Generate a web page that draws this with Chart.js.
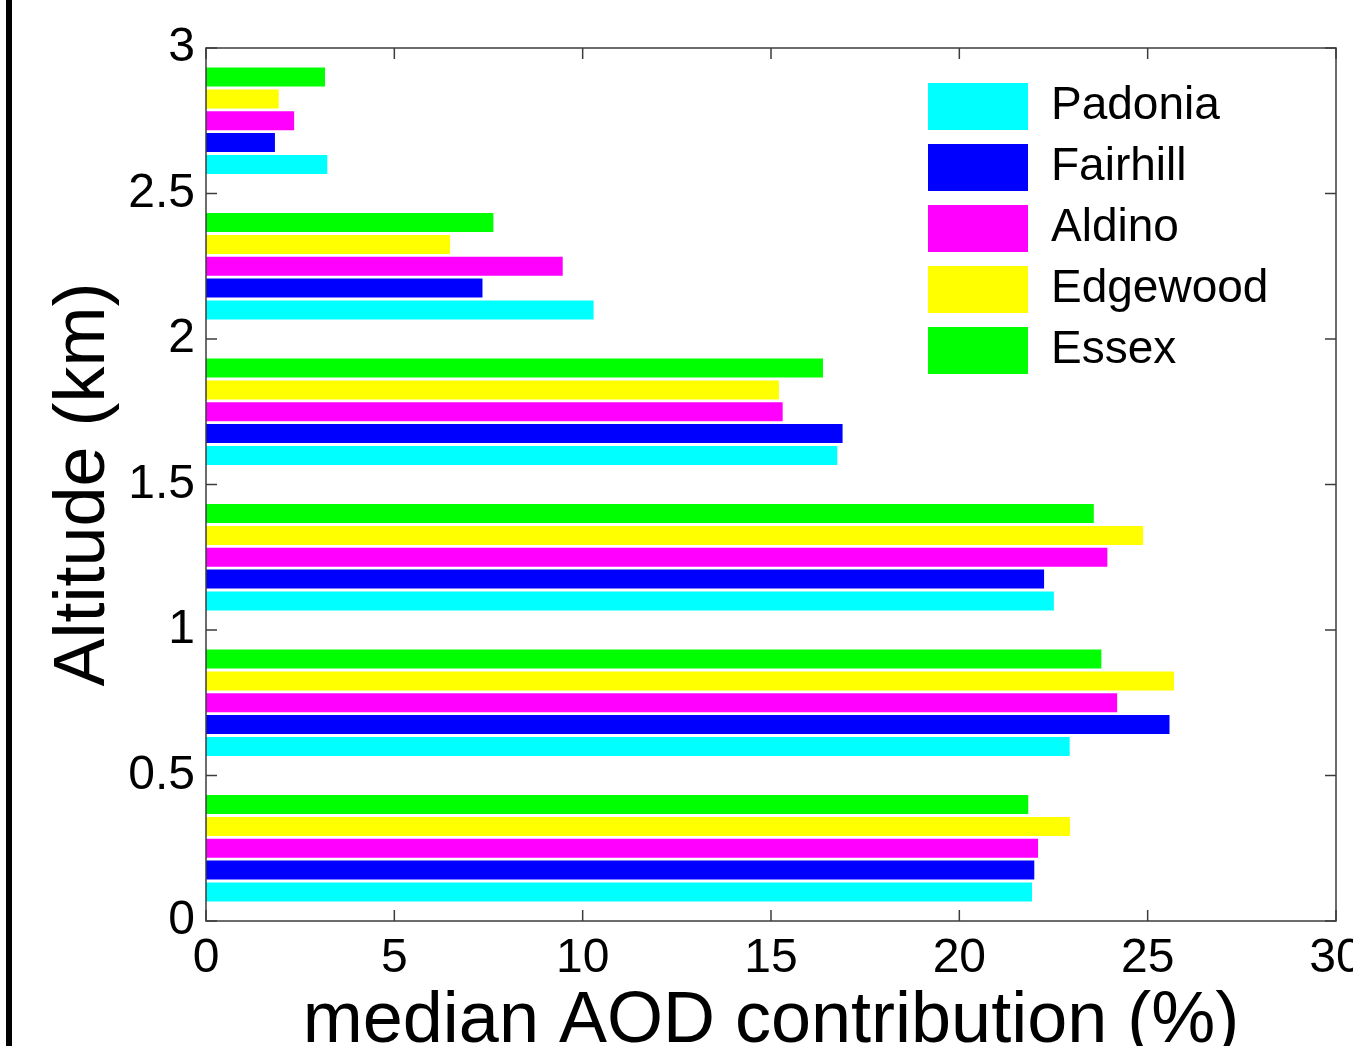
<!DOCTYPE html>
<html>
<head>
<meta charset="utf-8">
<title>median AOD contribution</title>
<script src="https://cdn.jsdelivr.net/npm/chart.js@4.4.1/dist/chart.umd.min.js"></script>
<style>
  html, body { margin: 0; padding: 0; background: #fff; }
  #wrap { position: relative; width: 1353px; height: 1046px; overflow: hidden; }
  #grafico { position: absolute; left: 0; top: 0; }
  #borda { position: absolute; left: 6px; top: 0; width: 6px; height: 100%; background: #000; }
</style>
</head>
<body>
<div id="wrap">
  <canvas id="grafico" width="1353" height="1046"></canvas>
  <div id="borda"></div>
</div>
<script>
// altitude bins (km, centre of each 0.5 km layer)
const altitudes = [0.25, 0.75, 1.25, 1.75, 2.25, 2.75];

// median AOD contribution (%) per site, bottom layer first
const padonia  = [21.93, 22.93, 22.51, 16.76, 10.29, 3.22];
const fairhill = [21.99, 25.58, 22.25, 16.90, 7.34, 1.83];
const aldino   = [22.09, 24.19, 23.93, 15.31, 9.47, 2.34];
const edgewood = [22.94, 25.70, 24.88, 15.21, 6.48, 1.93];
const essex    = [21.83, 23.77, 23.57, 16.38, 7.63, 3.16];

const xTicks = [0, 5, 10, 15, 20, 25, 30];
const yTicks = [0, 0.5, 1, 1.5, 2, 2.5, 3];

const fonte = 'Liberation Sans, Arial, sans-serif';
Chart.defaults.color = '#000';
Chart.defaults.font.family = fonte;

// Essex first so it sits on top inside each group (legend is reversed)
const series = [
  {label: 'Essex',    values: essex,    cor: '#00ff00'},
  {label: 'Edgewood', values: edgewood, cor: '#ffff00'},
  {label: 'Aldino',   values: aldino,   cor: '#ff00ff'},
  {label: 'Fairhill', values: fairhill, cor: '#0000ff'},
  {label: 'Padonia',  values: padonia,  cor: '#00ffff'},
];

const datasets = series.map(s => ({
  label: s.label,
  data: altitudes.map((alt, i) => ({y: alt, x: s.values[i]})),
  backgroundColor: s.cor,
  borderWidth: 0,
  categoryPercentage: 0.75,
  barPercentage: 0.87
}));

// matlab-like box with inward ticks on all sides
const moldura = {
  id: 'moldura',
  afterLayout(chart) {
    // move the legend into the top right corner of the plot
    const lg = chart.legend, a = chart.chartArea;
    lg.left = a.left + 708;
    lg.top = a.top + 21;
    lg.bottom = a.bottom;
  },
  afterDatasetsDraw(chart) {
    const {ctx, chartArea: a, scales: {x, y}} = chart;
    const t = 11;
    ctx.save();
    ctx.strokeStyle = '#3c3c3c';
    ctx.lineWidth = 1.5;
    ctx.beginPath();
    xTicks.forEach(v => {
      const px = x.getPixelForValue(v);
      ctx.moveTo(px, a.bottom); ctx.lineTo(px, a.bottom - t);
      ctx.moveTo(px, a.top);    ctx.lineTo(px, a.top + t);
    });
    yTicks.forEach(v => {
      const py = y.getPixelForValue(v);
      ctx.moveTo(a.left, py);  ctx.lineTo(a.left + t, py);
      ctx.moveTo(a.right, py); ctx.lineTo(a.right - t, py);
    });
    ctx.stroke();
    ctx.strokeRect(a.left, a.top, a.right - a.left, a.bottom - a.top);
    ctx.restore();
  }
};

new Chart(document.getElementById('grafico'), {
  type: 'bar',
  data: {datasets},
  plugins: [moldura],
  options: {
    indexAxis: 'y',
    responsive: false,
    animation: false,
    layout: {
      autoPadding: false,
      padding: {top: 48, right: 17, left: 0, bottom: 0}
    },
    plugins: {
      tooltip: {enabled: false},
      legend: {
        position: 'chartArea',
        align: 'start',
        reverse: true,
        labels: {
          boxWidth: 100,
          boxHeight: 47,
          padding: 14,
          color: '#000',
          font: {family: fonte, size: 46}
        }
      }
    },
    scales: {
      x: {
        type: 'linear',
        position: 'bottom',
        min: 0,
        max: 30,
        afterBuildTicks: s => { s.ticks = xTicks.map(v => ({value: v})); },
        afterFit: s => { s.height = 125; s.paddingLeft = 0; s.paddingRight = 0; },
        grid: {display: false, drawTicks: false},
        border: {display: false},
        ticks: {
          padding: 14,
          maxRotation: 0,
          autoSkip: false,
          color: '#000',
          font: {family: fonte, size: 48, lineHeight: 1},
          callback: v => String(v)
        },
        title: {
          display: true,
          text: 'median AOD contribution (%)',
          color: '#000',
          font: {family: fonte, size: 72, lineHeight: 1},
          padding: {top: 0, bottom: -12}
        }
      },
      y: {
        type: 'linear',
        position: 'left',
        min: 0,
        max: 3,
        offset: false,
        afterBuildTicks: s => { s.ticks = yTicks.map(v => ({value: v})); },
        afterFit: s => { s.width = 206; s.paddingTop = 0; s.paddingBottom = 0; },
        grid: {display: false, drawTicks: false, offset: false},
        border: {display: false},
        ticks: {
          padding: 11,
          autoSkip: false,
          color: '#000',
          font: {family: fonte, size: 48, lineHeight: 1},
          callback: v => String(v)
        },
        title: {
          display: true,
          text: 'Altitude (km)',
          color: '#000',
          font: {family: fonte, size: 72, lineHeight: 1},
          padding: {top: 48, bottom: 0}
        }
      }
    }
  }
});
</script>
</body>
</html>
